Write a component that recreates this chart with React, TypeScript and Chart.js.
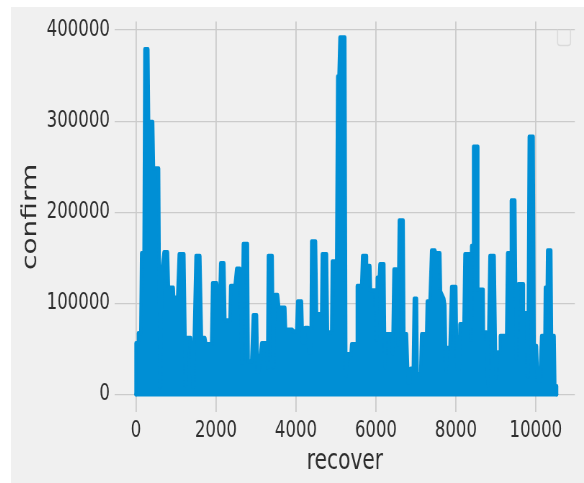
import React, { useEffect, useRef } from "react";
import { Chart, registerables } from "chart.js";

Chart.register(...registerables);

// x values (recover) and y values (confirm) of the plotted line
const recover = [
  0, 0, 55, 60, 120, 140, 200, 222, 300, 318, 420, 440, 568, 600, 630, 660, 700, 790, 815, 935,
  945, 1040, 1080, 1200, 1245, 1270, 1370, 1430, 1500, 1600, 1640, 1725, 1750, 1890, 1915, 2020,
  2040, 2100, 2117, 2200, 2225, 2350, 2367, 2475, 2517, 2600, 2650, 2683, 2790, 2808, 2892, 2933,
  3017, 3042, 3075, 3142, 3267, 3290, 3308, 3408, 3433, 3475, 3542, 3575, 3725, 3742, 3908, 3933,
  4017, 4042, 4142, 4167, 4225, 4230, 4308, 4325, 4375, 4392, 4492, 4517, 4642, 4658, 4767, 4792,
  4892, 4908, 5017, 5042, 5075, 5100, 5225, 5250, 5292, 5375, 5392, 5517, 5533, 5642, 5667, 5750,
  5767, 5850, 5867, 6000, 6017, 6033, 6083, 6100, 6200, 6225, 6250, 6392, 6420, 6450, 6517, 6550,
  6583, 6683, 6700, 6767, 6808, 6850, 6867, 6933, 6958, 7017, 7033, 7117, 7142, 7267, 7283, 7350,
  7392, 7475, 7500, 7600, 7617, 7700, 7725, 7755, 7783, 7850, 7892, 8000, 8025, 8085, 8100, 8200,
  8225, 8350, 8370, 8392, 8433, 8440, 8540, 8550, 8683, 8690, 8767, 8800, 8850, 8958, 9000, 9042,
  9100, 9110, 9267, 9292, 9375, 9385, 9475, 9510, 9560, 9683, 9690, 9767, 9800, 9833, 9933, 9958,
  10017, 10042, 10100, 10142, 10225, 10235, 10283, 10292, 10375, 10392, 10458, 10475, 10520, 10520,
];
const confirm = [
  0, 56000, 56000, 67000, 67000, 155000, 155000, 379000, 379000, 299000, 299000, 248000, 248000,
  8000, 87000, 140000, 156000, 156000, 117000, 117000, 106000, 106000, 154000, 154000, 10000,
  62000, 62000, 8000, 152000, 152000, 62000, 62000, 55000, 55000, 122000, 122000, 112000, 112000,
  144000, 144000, 81000, 81000, 119000, 119000, 138000, 138000, 35000, 165000, 165000, 36000,
  36000, 87000, 87000, 25000, 25000, 56000, 56000, 30000, 152000, 152000, 30000, 109000, 109000,
  95000, 95000, 71000, 71000, 69000, 69000, 102000, 102000, 57000, 57000, 73000, 73000, 46000,
  46000, 168000, 168000, 88000, 88000, 154000, 154000, 68000, 68000, 146000, 146000, 349000,
  349000, 392000, 392000, 20000, 44000, 44000, 55000, 55000, 119000, 119000, 152000, 152000,
  141000, 141000, 114000, 114000, 60000, 128000, 128000, 143000, 143000, 30000, 66000, 66000,
  45000, 137000, 137000, 55000, 191000, 191000, 66000, 66000, 13000, 13000, 28000, 28000, 105000,
  105000, 22000, 22000, 66000, 66000, 102000, 102000, 158000, 158000, 155000, 155000, 113000,
  105000, 98000, 25000, 51000, 51000, 118000, 118000, 28000, 28000, 77000, 77000, 154000, 154000,
  60000, 163000, 163000, 272000, 272000, 115000, 115000, 68000, 68000, 10000, 152000, 152000,
  18000, 46000, 46000, 64000, 64000, 155000, 155000, 213000, 213000, 40000, 121000, 121000, 89000,
  89000, 20000, 283000, 283000, 53000, 53000, 15000, 15000, 64000, 64000, 117000, 117000, 158000,
  158000, 64000, 64000, 9000, 9000, 0,
];

const xTicks = [0, 2000, 4000, 6000, 8000, 10000];
const yTicks = [0, 100000, 200000, 300000, 400000];
const xTitle = "recover";
const yTitle = "confirm";

const SQUEEZE = 0.72;
const CANVAS_W = 796;
const CANVAS_H = 476;

const legendGhost = {
  id: "legendGhost",
  afterDraw(chart: any) {
    const { ctx, chartArea } = chart;
    const r = chartArea.right - 6;
    const l = r - 18;
    const t = chartArea.top + 8;
    const b = t + 16;
    ctx.save();
    ctx.strokeStyle = "#dadada";
    ctx.lineWidth = 1.6;
    ctx.beginPath();
    ctx.moveTo(l, t);
    ctx.lineTo(l, b - 3);
    ctx.quadraticCurveTo(l, b, l + 4, b);
    ctx.lineTo(r - 4, b);
    ctx.quadraticCurveTo(r, b, r, b - 3);
    ctx.lineTo(r, t);
    ctx.stroke();
    ctx.restore();
  },
};

export default function App() {
  const ref = useRef<HTMLCanvasElement | null>(null);

  useEffect(() => {
    if (!ref.current) return;
    const points = recover.map((x, i) => ({ x, y: confirm[i] }));
    const base = [
      { x: recover[0], y: 0 },
      { x: recover[recover.length - 1], y: 0 },
    ];
    const tickFont = { family: "DejaVu Sans", size: 23 };
    const titleFont = { family: "DejaVu Sans", size: 28 };
    const zeroPad = (s: any) => {
      s.paddingTop = 0;
      s.paddingBottom = 0;
      s.paddingLeft = 0;
      s.paddingRight = 0;
    };
    const chart = new Chart(ref.current, {
      type: "line",
      data: {
        datasets: [
          {
            data: points,
            borderColor: "#008fd5",
            backgroundColor: "#008fd5",
            fill: "origin",
            borderWidth: 4.5,
            pointRadius: 0,
            tension: 0,
            borderJoinStyle: "round",
            borderCapStyle: "round",
          },
          {
            data: base,
            borderColor: "#008fd5",
            borderWidth: 4.5,
            pointRadius: 0,
            fill: false,
            borderCapStyle: "round",
          },
        ],
      },
      options: {
        animation: false,
        responsive: false,
        devicePixelRatio: 1,
        layout: { padding: { left: 0, right: 12.7, top: 14.5, bottom: 0 } },
        plugins: { legend: { display: false }, tooltip: { enabled: false } },
        scales: {
          x: {
            type: "linear",
            min: -525,
            max: 10975,
            border: { display: false },
            grid: { color: "#cbcbcb", lineWidth: 1.8, drawTicks: false },
            afterBuildTicks: (s: any) => {
              s.ticks = xTicks.map((value) => ({ value }));
            },
            ticks: {
              autoSkip: false,
              maxRotation: 0,
              minRotation: 0,
              padding: 5,
              font: tickFont,
              color: "#2e2e2e",
              callback: (v: any) => String(v),
            },
            title: {
              display: true,
              text: xTitle,
              font: titleFont,
              color: "#2e2e2e",
              padding: { top: 0, bottom: 4 },
            },
            afterFit: (s: any) => {
              s.height = 70.9;
              zeroPad(s);
            },
          },
          y: {
            type: "linear",
            min: -19500,
            max: 409500,
            border: { display: false },
            grid: { color: "#cbcbcb", lineWidth: 1.3, drawTicks: false },
            afterBuildTicks: (s: any) => {
              s.ticks = yTicks.map((value) => ({ value }));
            },
            ticks: {
              autoSkip: false,
              padding: 7,
              font: tickFont,
              color: "#2e2e2e",
              callback: (v: any) => String(v),
            },
            title: {
              display: true,
              text: yTitle,
              font: titleFont,
              color: "#2e2e2e",
              padding: { top: 11, bottom: 0 },
            },
            afterFit: (s: any) => {
              s.width = 144.4;
              zeroPad(s);
            },
          },
        },
      },
      plugins: [legendGhost],
    });
    return () => chart.destroy();
  }, []);

  return (
    <div
      style={{
        position: "absolute",
        left: 0,
        top: 0,
        width: 584,
        height: 483,
        background: "#ffffff",
        overflow: "hidden",
      }}
    >
      <div
        style={{
          position: "absolute",
          left: 11,
          top: 7,
          width: 573,
          height: 476,
          background: "#f0f0f0",
          overflow: "hidden",
        }}
      >
        <canvas
          ref={ref}
          width={CANVAS_W}
          height={CANVAS_H}
          style={{ width: Math.round(CANVAS_W * SQUEEZE) + "px", height: CANVAS_H + "px", display: "block" }}
        />
      </div>
    </div>
  );
}
